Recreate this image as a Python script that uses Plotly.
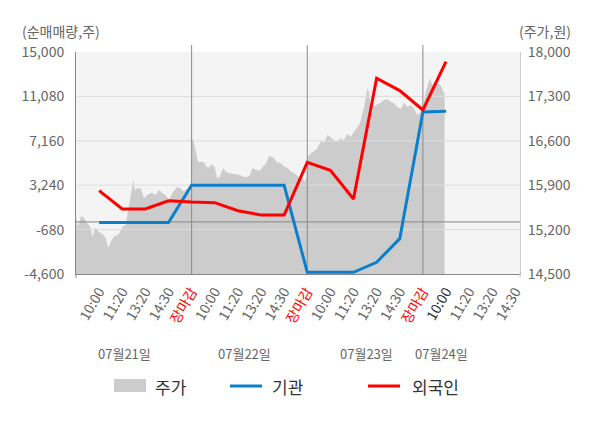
import plotly.graph_objects as go

# ── data ──
day_slots = ["10:00", "11:20", "13:20", "14:30", "장마감"]
dates = ["07월21일", "07월22일", "07월23일", "07월24일"]

# net buying (주) at each tick slot, slot 1 = 07/21 10:00 ... slot 16 = 07/24 10:00
inst = [-50, -50, -50, -50, 3240, 3240, 3240, 3240, 3240,
        -4450, -4450, -4450, -3570, -1480, 9700, 9760]
foreign = [2760, 1140, 1140, 1870, 1760, 1700, 990, 610, 610,
           5260, 4550, 2020, 12680, 11590, 9880, 14150]

# price (원), position measured in tick slots
price_pos = [0.00, 0.09, 0.23, 0.35, 0.49, 0.61, 0.71, 0.85, 0.99, 1.18, 1.28, 1.40,
             1.50, 1.64, 1.86, 2.00, 2.15, 2.25, 2.36, 2.48, 2.54, 2.65, 2.80, 2.94,
             3.08, 3.30, 3.44, 3.59, 3.73, 3.88, 4.02, 4.16, 4.38, 4.53, 4.67, 4.81,
             4.96,
             5.00, 5.06, 5.13, 5.20, 5.27, 5.42, 5.56, 5.63, 5.78, 5.88, 5.99, 6.11,
             6.21, 6.36, 6.50, 6.64, 6.86, 7.08, 7.29, 7.51, 7.62, 7.80, 7.94, 8.08,
             8.23, 8.34, 8.52, 8.66, 8.85, 9.02, 9.17, 9.31, 9.45, 9.60, 9.74, 9.88,
             9.97,
             10.00, 10.03, 10.15, 10.29, 10.40, 10.51, 10.61, 10.72, 10.87, 11.01,
             11.15, 11.30, 11.44, 11.59, 11.73, 11.88, 12.02, 12.16, 12.28, 12.38,
             12.48, 12.60, 12.67, 12.74, 12.88, 13.03, 13.17, 13.32, 13.46, 13.60,
             13.75, 13.89, 14.04, 14.18, 14.32, 14.47, 14.61, 14.76, 14.90,
             15.02, 15.12, 15.22, 15.30, 15.41, 15.51, 15.62, 15.77, 15.88, 15.94]
price_val = [15403, 15246, 15419, 15378, 15299, 15246, 15088, 15236, 15167, 15115, 15063, 14915,
             15009, 15088, 15131, 15246, 15273, 15482, 15719, 15993, 15824, 15851, 15851, 15693,
             15746, 15782, 15746, 15824, 15772, 15746, 15667, 15772, 15876, 15851, 15798, 15851,
             15772,
             16613, 16639, 16534, 16403, 16271, 16271, 16255, 16192, 16182, 16234, 16192, 16009,
             16034, 16166, 16103, 16088, 16077, 16061, 16025, 16045, 16166, 16151, 16129, 16192,
             16245, 16360, 16340, 16271, 16245, 16192, 16166, 16113, 16088, 16034, 16034, 15955,
             16034,
             16297, 16349, 16403, 16444, 16466, 16534, 16613, 16561, 16691, 16655,
             16613, 16586, 16639, 16613, 16707, 16665, 16744, 16822, 16876, 17034,
             17164, 17428, 17374, 17112, 17138, 17164, 17201, 17243, 17254, 17216,
             17191, 17138, 17097, 17201, 17138, 17164, 17112, 17007, 17059,
             17138, 17374, 17480, 17585, 17480, 17532, 17507, 17480, 17374, 17349]

flow_ticks = [-4600, -680, 3240, 7160, 11080, 15000]
price_ticks = [14500, 15200, 15900, 16600, 17300, 18000]

# ── geometry (screen pixels; the page body adds an 8px margin) ──
OFF = 8
W, H = 600 - OFF, 428 - OFF
L, R, T, B = 76, 520, 52, 274     # plot box on screen
X_MAX = 19.2
FONT = "Noto Sans CJK KR, Noto Sans, sans-serif"
GRAY_TXT = "#666666"
BLUE, RED = "#0a80cc", "#ff0000"


def px(x):
    return (x - L) / (R - L)


def py(y):
    return (B - y) / (B - T)


# tick labels: 4 days, last one stops at 14:30
tickvals, ticktext = [], []
for d in range(len(dates)):
    for s, lab in enumerate(day_slots):
        pos = d * len(day_slots) + s + 1
        if pos > 19:
            continue
        tickvals.append(pos)
        if lab == "장마감":
            ticktext.append(f'<span style="color:#ff0000">{lab}</span>')
        elif pos == len(inst):
            ticktext.append(f'<span style="color:#333333">{lab}</span>')
        else:
            ticktext.append(lab)

slots = list(range(1, len(inst) + 1))

fig = go.Figure()

fig.add_trace(go.Scatter(
    x=price_pos, y=price_val, yaxis="y", mode="lines", name="주가",
    fill="tozeroy", fillcolor="#cccccc", line=dict(width=0, color="#cccccc"),
))

# gridlines drawn as traces so they sit above the price area but below the lines
gx, gy = [], []
for v in flow_ticks[1:-1]:
    gx += [0, X_MAX, None]
    gy += [v, v, None]
fig.add_trace(go.Scatter(x=gx, y=gy, yaxis="y2", mode="lines", hoverinfo="skip",
                         line=dict(color="#dddddd", width=1), showlegend=False))
fig.add_trace(go.Scatter(x=[0, X_MAX], y=[0, 0], yaxis="y2", mode="lines", hoverinfo="skip",
                         line=dict(color="#888888", width=1), showlegend=False))
vx, vy = [], []
for d in range(1, len(dates)):
    vx += [d * 5, d * 5, None]
    vy += [flow_ticks[0], flow_ticks[-1], None]
fig.add_trace(go.Scatter(x=vx, y=vy, yaxis="y2", mode="lines", hoverinfo="skip",
                         line=dict(color="#888888", width=1), showlegend=False))

fig.add_trace(go.Scatter(x=slots, y=inst, yaxis="y2", mode="lines", name="기관",
                         line=dict(color=BLUE, width=3)))
fig.add_trace(go.Scatter(x=slots, y=foreign, yaxis="y2", mode="lines", name="외국인",
                         line=dict(color=RED, width=3)))

shapes = []
# separator stubs above the plot top
for d in range(1, len(dates)):
    shapes.append(dict(type="line", xref="x", yref="paper", x0=d * 5, x1=d * 5,
                       y0=1, y1=py(45), line=dict(color="#888888", width=1)))
shapes.append(dict(type="line", xref="paper", yref="paper", x0=0, x1=0,
                   y0=py(278), y1=0, line=dict(color="#888888", width=1)))
shapes.append(dict(type="line", xref="paper", yref="paper", x0=1, x1=1,
                   y0=py(278), y1=0, line=dict(color="#cccccc", width=1)))

# legend
shapes.append(dict(type="rect", xref="paper", yref="paper", x0=px(114), x1=px(146),
                   y0=py(392), y1=py(379), fillcolor="#cccccc", line=dict(width=0)))
shapes.append(dict(type="line", xref="paper", yref="paper", x0=px(230), x1=px(262),
                   y0=py(386), y1=py(386), line=dict(color=BLUE, width=3)))
shapes.append(dict(type="line", xref="paper", yref="paper", x0=px(368), x1=px(400),
                   y0=py(386), y1=py(386), line=dict(color=RED, width=3)))

ann = []
for x, lab in [(153, "주가"), (270, "기관"), (410, "외국인")]:
    ann.append(dict(x=px(x), y=py(386), xref="paper", yref="paper", text=lab,
                    showarrow=False, xanchor="left", yanchor="middle",
                    font=dict(size=17, color="#333333", family=FONT)))
for x, lab in zip([124, 244, 366, 441], dates):
    ann.append(dict(x=px(x), y=py(353), xref="paper", yref="paper", text=lab,
                    showarrow=False, xanchor="center", yanchor="middle",
                    font=dict(size=13, color=GRAY_TXT, family=FONT)))
ann.append(dict(x=px(20), y=py(31), xref="paper", yref="paper", text="(순매매량,주)",
                showarrow=False, xanchor="left", yanchor="middle",
                font=dict(size=14, color=GRAY_TXT, family=FONT)))
ann.append(dict(x=px(573), y=py(31), xref="paper", yref="paper", text="(주가,원)",
                showarrow=False, xanchor="right", yanchor="middle",
                font=dict(size=14, color=GRAY_TXT, family=FONT)))

fig.update_layout(
    width=W, height=H,
    margin=dict(l=L - OFF, r=W + OFF - R, t=T - OFF, b=H + OFF - B),
    paper_bgcolor="white", plot_bgcolor="#f4f4f4",
    font=dict(family=FONT, color=GRAY_TXT),
    showlegend=False,
    xaxis=dict(range=[0, X_MAX], tickvals=tickvals, ticktext=ticktext, tickangle=-60,
               showgrid=False, zeroline=False, showline=True, linecolor="#888888",
               ticks="outside", ticklen=3, tickcolor="rgba(0,0,0,0)",
               tickfont=dict(size=14, color=GRAY_TXT, family=FONT)),
    yaxis=dict(side="right", range=[price_ticks[0], price_ticks[-1]], tickvals=price_ticks,
               ticktext=[f"{v:,}" for v in price_ticks],
               showgrid=False, zeroline=False, showline=True, linecolor="#cccccc",
               ticks="outside", ticklen=4, tickcolor="rgba(0,0,0,0)",
               tickfont=dict(size=14, color=GRAY_TXT, family=FONT)),
    yaxis2=dict(side="left", overlaying="y", range=[flow_ticks[0], flow_ticks[-1]],
                tickvals=flow_ticks, ticktext=[f"{v:,}" for v in flow_ticks],
                showgrid=False, zeroline=False, showline=True, linecolor="#888888",
                ticks="outside", ticklen=8, tickcolor="rgba(0,0,0,0)",
                tickfont=dict(size=14, color=GRAY_TXT, family=FONT)),
    shapes=shapes, annotations=ann,
)

fig.write_html("out.html")
